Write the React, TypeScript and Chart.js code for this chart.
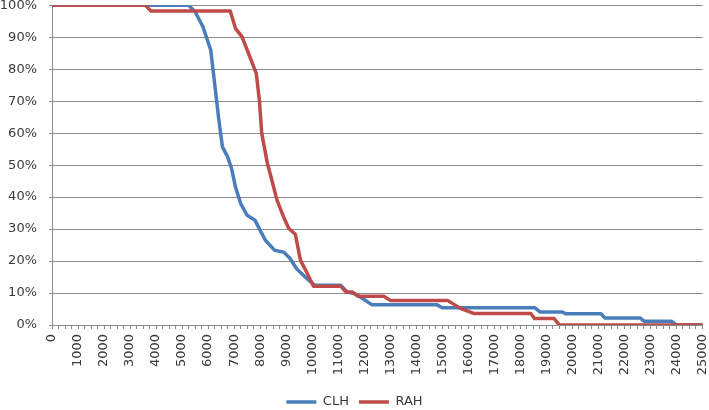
import React, { useEffect, useRef } from "react";
import { Chart, registerables } from "chart.js";

Chart.register(...registerables);

// Survival-style curves: x = value, y = percent remaining
const clhX = [0, 5250, 5500, 5800, 6100, 6250, 6400, 6550, 6750, 6900, 7050, 7250, 7500, 7800, 8000, 8200, 8550, 8900, 9150, 9400, 9800, 10100, 11100, 11350, 11650, 11950, 12300, 14800, 15000, 18550, 18750, 19600, 19750, 21100, 21250, 22600, 22750, 23800, 24000, 25000];
const clhY = [100, 100, 98, 93.3, 86, 75.6, 65, 55.7, 52.6, 49, 43.2, 38, 34.3, 32.8, 29.6, 26.5, 23.4, 22.8, 20.8, 17.6, 14.5, 12.4, 12.4, 10.3, 9.8, 8.2, 6.3, 6.3, 5.4, 5.4, 4.1, 4.1, 3.5, 3.5, 2.2, 2.2, 1.2, 1.2, 0, 0];

const rahX = [0, 3600, 3800, 6850, 7050, 7300, 7550, 7850, 7970, 8060, 8280, 8450, 8650, 8900, 9100, 9350, 9550, 9750, 10050, 11100, 11300, 11550, 11750, 12750, 13000, 15200, 15700, 16200, 18400, 18550, 19300, 19500, 25000];
const rahY = [100, 100, 98.2, 98.2, 92.8, 90.2, 85, 78.7, 70.3, 60, 50.5, 45.3, 39, 33.8, 30.2, 28.4, 20.2, 17.1, 12.1, 12.1, 10.3, 10.3, 9, 9, 7.7, 7.7, 5.2, 3.6, 3.6, 2, 2, 0, 0];

const seriesNames = ["CLH", "RAH"];
const seriesColors = ["#4A7EBB", "#BE4B48"];

const xMin = 0;
const xMax = 25000;
const xTickStep = 250;
const xLabelStep = 1000;
const yMin = 0;
const yMax = 100;
const yStep = 10;

const gridColor = "#8A8A8A";
const textColor = "#3A3A3A";
const font = { family: "'DejaVu Sans', sans-serif", size: 13, lineHeight: 1.2 };

export default function App() {
  const ref = useRef<HTMLCanvasElement>(null);

  useEffect(() => {
    const canvas = ref.current;
    if (!canvas) return;
    const legendNudge = {
      id: "legendNudge",
      afterLayout(chart: any) {
        const l = chart.legend;
        if (l) {
          l.top += 8.5;
          l.bottom += 8.5;
        }
      },
    };
    const chart = new Chart(canvas, {
      type: "line",
      data: {
        datasets: [
          {
            label: seriesNames[0],
            data: clhX.map((x, i) => ({ x, y: clhY[i] })),
            borderColor: seriesColors[0],
            backgroundColor: seriesColors[0],
            borderWidth: 3.5,
            pointRadius: 0,
            tension: 0,
            borderJoinStyle: "round",
            borderCapStyle: "round",
            order: 1,
          },
          {
            label: seriesNames[1],
            data: rahX.map((x, i) => ({ x, y: rahY[i] })),
            borderColor: seriesColors[1],
            backgroundColor: seriesColors[1],
            borderWidth: 3.5,
            pointRadius: 0,
            tension: 0,
            borderJoinStyle: "round",
            borderCapStyle: "round",
            order: 0,
          },
        ],
      },
      options: {
        animation: false,
        responsive: false,
        maintainAspectRatio: false,
        layout: { padding: 0 },
        scales: {
          x: {
            type: "linear",
            min: xMin,
            max: xMax,
            ticks: {
              stepSize: xTickStep,
              autoSkip: false,
              maxTicksLimit: 500,
              minRotation: 90,
              maxRotation: 90,
              padding: 5,
              color: textColor,
              font,
              callback: (v: any) => (Number(v) % xLabelStep === 0 ? String(v) : ""),
            },
            grid: { drawOnChartArea: false, drawTicks: true, tickLength: 4, color: gridColor },
            border: { display: true, color: gridColor, width: 1 },
            afterFit: (scale: any) => {
              scale.height = 52;
              scale.paddingRight = 6.5;
              scale.paddingLeft = 0;
            },
          },
          y: {
            type: "linear",
            min: yMin,
            max: yMax,
            ticks: {
              stepSize: yStep,
              padding: 12,
              color: textColor,
              font,
              callback: (v: any) => `${v}%`,
            },
            grid: { color: gridColor, tickLength: 3, drawTicks: true },
            border: { display: true, color: gridColor, width: 1 },
            afterFit: (scale: any) => {
              scale.width = 52;
              scale.paddingTop = 5.3;
              scale.paddingBottom = 0;
            },
          },
        },
        plugins: {
          legend: {
            position: "bottom",
            labels: {
              usePointStyle: true,
              pointStyle: "line",
              pointStyleWidth: 30,
              color: textColor,
              font,
              padding: 10,
              sort: (a: any, b: any) => a.datasetIndex - b.datasetIndex,
            },
          },
          tooltip: { enabled: false },
        },
      },
      plugins: [legendNudge],
    } as any);
    return () => chart.destroy();
  }, []);

  return (
    <div style={{ position: "absolute", left: 0, top: 0, width: 709, height: 410, background: "#fff" }}>
      <canvas ref={ref} width={709} height={410} style={{ display: "block", width: 709, height: 410 }} />
    </div>
  );
}
